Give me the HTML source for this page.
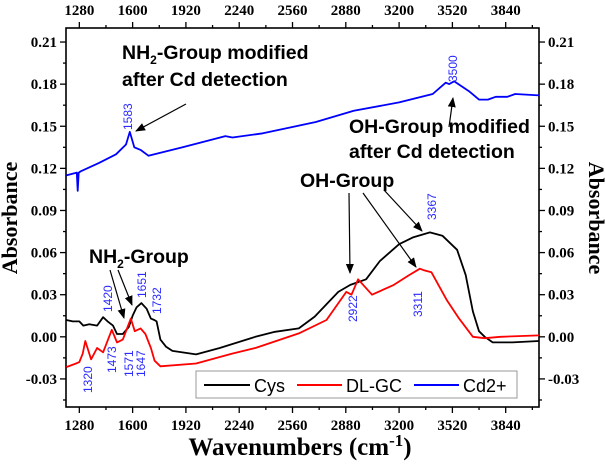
<!DOCTYPE html>
<html><head><meta charset="utf-8"><style>
html,body{margin:0;padding:0;background:#fff;width:605px;height:464px;overflow:hidden}
svg{display:block}
.tk{font-family:"Liberation Serif",serif;font-weight:bold;font-size:15px;fill:#000}
.an{font-family:"Liberation Sans",sans-serif;font-weight:bold;font-size:19.5px;fill:#000}
.bl{font-family:"Liberation Sans",sans-serif;font-size:12px;fill:#2a2aff}
</style></head><body>
<svg id="c" width="605" height="464"></svg>
<script>
const xTicks=[1280,1600,1920,2240,2560,2880,3200,3520,3840];
const yTicks=[-0.03,0.00,0.03,0.06,0.09,0.12,0.15,0.18,0.21];
const yTickLabels=["-0.03","0.00","0.03","0.06","0.09","0.12","0.15","0.18","0.21"];
const cysX=[1202,1240,1280,1304,1340,1387,1423,1450,1482,1506,1541,1577,1600,1624,1653,1684,1710,1730,1744,1767,1800,1839,1981,2123,2337,2455,2598,2693,2835,2907,3002,3085,3200,3286,3385,3460,3548,3600,3643,3680,3714,3762,3880,4040];
const cysY=[0.012,0.011,0.011,0.008,0.009,0.008,0.014,0.011,0.008,0.002,0.002,0.007,0.015,0.021,0.024,0.020,0.013,0.012,0.011,-0.002,-0.007,-0.010,-0.0125,-0.008,0.000,0.0036,0.006,0.0144,0.032,0.037,0.041,0.054,0.066,0.071,0.0744,0.072,0.062,0.044,0.018,0.004,0.000,-0.004,-0.004,-0.003];
const glcX=[1202,1260,1280,1300,1316,1351,1387,1423,1475,1506,1541,1589,1613,1648,1677,1710,1732,1767,1981,2195,2337,2598,2764,2883,2914,2954,3037,3168,3260,3325,3346,3394,3487,3560,3643,3714,3809,4040];
const glcY=[-0.0216,-0.019,-0.018,-0.012,-0.003,-0.016,-0.008,-0.011,0.005,-0.004,-0.002,0.013,0.004,0.006,0.002,-0.008,-0.017,-0.021,-0.019,-0.012,-0.008,0.0024,0.012,0.032,0.030,0.041,0.030,0.037,0.044,0.0485,0.0475,0.046,0.026,0.013,0.000,-0.001,0.000,0.001];
const cdX=[1202,1265,1270,1276,1290,1400,1500,1560,1583,1610,1650,1695,1900,2157,2200,2382,2700,2928,3200,3402,3480,3500,3530,3620,3680,3733,3780,3850,3897,4040];
const cdY=[0.115,0.117,0.104,0.117,0.118,0.124,0.130,0.137,0.146,0.135,0.133,0.129,0.135,0.143,0.142,0.145,0.153,0.161,0.167,0.173,0.181,0.180,0.182,0.175,0.169,0.169,0.171,0.171,0.173,0.172];
const seriesNames=["Cys","DL-GC","Cd2+"];
const seriesColors=["#000","#f00","#00f"];

const L=66,R=539,T=28,B=407,X0=1200,X1=4040,Y0=-0.05,Y1=0.22;
const sx=w=>L+(w-X0)/(X1-X0)*(R-L);
const sy=v=>B-(v-Y0)/(Y1-Y0)*(B-T);
const svg=document.getElementById('c');
const NS="http://www.w3.org/2000/svg";
function mk(tag,attrs,parent){const e=document.createElementNS(NS,tag);for(const k in attrs)e.setAttribute(k,attrs[k]);(parent||svg).appendChild(e);return e;}

const frame=mk('rect',{x:L,y:T,width:R-L,height:B-T,fill:'none',stroke:'#000','stroke-width':1.6});



for(let i=0;i<xTicks.length;i++){
  const x=sx(xTicks[i]);
  mk('line',{x1:x,y1:B,x2:x,y2:B+6,stroke:'#000','stroke-width':1.3});
  mk('line',{x1:x,y1:T,x2:x,y2:T-6,stroke:'#000','stroke-width':1.3});
  const xm=sx(xTicks[i]+160);
  if(xTicks[i]+160<X1){mk('line',{x1:xm,y1:B,x2:xm,y2:B+3,stroke:'#000','stroke-width':1.3});mk('line',{x1:xm,y1:T,x2:xm,y2:T-3,stroke:'#000','stroke-width':1.3});}
  const t1=mk('text',{x:x,y:430,'text-anchor':'middle',class:'tk'});t1.textContent=xTicks[i];
  
  
  const t2=mk('text',{x:x,y:15,'text-anchor':'middle',class:'tk'});t2.textContent=xTicks[i];
  
  
}
for(let i=0;i<yTicks.length;i++){
  const y=sy(yTicks[i]);
  mk('line',{x1:L,y1:y,x2:L-6,y2:y,stroke:'#000','stroke-width':1.3});
  mk('line',{x1:R,y1:y,x2:R+6,y2:y,stroke:'#000','stroke-width':1.3});
  const ym=sy(yTicks[i]-0.015);
  if(yTicks[i]-0.015>Y0){mk('line',{x1:L,y1:ym,x2:L-3,y2:ym,stroke:'#000','stroke-width':1.3});mk('line',{x1:R,y1:ym,x2:R+3,y2:ym,stroke:'#000','stroke-width':1.3});}
  const t1=mk('text',{x:L-9,y:y+5,'text-anchor':'end',class:'tk'});t1.textContent=yTickLabels[i];
  
  
  const t2=mk('text',{x:R+9,y:y+5,'text-anchor':'start',class:'tk'});t2.textContent=yTickLabels[i];
  
  
}
const sets=[[cysX,cysY],[glcX,glcY],[cdX,cdY]];
for(let s=0;s<3;s++){
  const [xs,ys]=sets[s];
  const d=xs.map((w,i)=>(i?'L':'M')+sx(w).toFixed(1)+','+sy(ys[i]).toFixed(1)).join(' ');
  const p=mk('path',{d:d,fill:'none',stroke:seriesColors[s],'stroke-width':1.8,'stroke-linejoin':'round'});
  
  
}
</script>
<svg width="605" height="464" style="position:absolute;left:0;top:0">
<defs><marker id="a2" markerWidth="10" markerHeight="8" refX="9" refY="4" orient="auto" markerUnits="userSpaceOnUse"><path d="M0,0 L10,4 L0,8 z" fill="#000"/></marker></defs>
<text x="17" y="218" transform="rotate(-90 17 218)" text-anchor="middle" font-family="Liberation Serif,serif" font-weight="bold" font-size="22">Absorbance</text>
<text x="589" y="218" transform="rotate(90 589 218)" text-anchor="middle" font-family="Liberation Serif,serif" font-weight="bold" font-size="22">Absorbance</text>
<text x="300" y="455" text-anchor="middle" font-family="Liberation Serif,serif" font-weight="bold" font-size="25">Wavenumbers (cm<tspan dy="-9" font-size="17">-1</tspan><tspan dy="9">)</tspan></text>
<g><text x="122" y="59" class="an">NH<tspan font-size="12" dy="5">2</tspan><tspan dy="-5">-Group modified</tspan></text><text x="122" y="86" class="an">after Cd detection</text></g>
<line x1="186" y1="104" x2="136" y2="131" stroke="#000" stroke-width="1.2" marker-end="url(#a2)"/>
<g><text x="349" y="133" class="an">OH-Group modified</text><text x="349" y="158" class="an">after Cd detection</text></g>
<line x1="449" y1="127" x2="453" y2="98" stroke="#000" stroke-width="1.2" marker-end="url(#a2)"/>
<text x="300" y="187" class="an">OH-Group</text>
<line x1="349" y1="193" x2="350" y2="273" stroke="#000" stroke-width="1.2" marker-end="url(#a2)"/>
<line x1="363" y1="193" x2="416" y2="267" stroke="#000" stroke-width="1.2" marker-end="url(#a2)"/>
<line x1="384" y1="190" x2="422" y2="231" stroke="#000" stroke-width="1.2" marker-end="url(#a2)"/>
<text x="89" y="263" class="an">NH<tspan font-size="12" dy="5">2</tspan><tspan dy="-5">-Group</tspan></text>
<line x1="110" y1="270" x2="124" y2="318" stroke="#000" stroke-width="1.2" marker-end="url(#a2)"/>
<line x1="118" y1="270" x2="132" y2="305" stroke="#000" stroke-width="1.2" marker-end="url(#a2)"/>
<g>
<text class="bl" transform="translate(132,130) rotate(-90)">1583</text>
<text class="bl" transform="translate(457,82) rotate(-90)">3500</text>
<text class="bl" transform="translate(112,312) rotate(-90)">1420</text>
<text class="bl" transform="translate(146,298) rotate(-90)">1651</text>
<text class="bl" transform="translate(161,314) rotate(-90)">1732</text>
<text class="bl" transform="translate(92,393) rotate(-90)">1320</text>
<text class="bl" transform="translate(116,373) rotate(-90)">1473</text>
<text class="bl" transform="translate(133,377) rotate(-90)">1571</text>
<text class="bl" transform="translate(145,377) rotate(-90)">1647</text>
<text class="bl" transform="translate(357,322) rotate(-90)">2922</text>
<text class="bl" transform="translate(422,317) rotate(-90)">3311</text>
<text class="bl" transform="translate(436,220) rotate(-90)">3367</text>
</g>
<g>
<rect x="196" y="371" width="321" height="27" fill="#fff" stroke="#999" stroke-width="1"/>
<line x1="204" y1="385" x2="250" y2="385" stroke="#000" stroke-width="2"/>
<text x="254" y="392" font-family="Liberation Sans,sans-serif" font-size="18">Cys</text>
<line x1="297" y1="385" x2="342" y2="385" stroke="#f00" stroke-width="2"/>
<text x="346" y="392" font-family="Liberation Sans,sans-serif" font-size="18">DL-GC</text>
<line x1="414" y1="385" x2="459" y2="385" stroke="#00f" stroke-width="2"/>
<text x="463" y="392" font-family="Liberation Sans,sans-serif" font-size="18">Cd2+</text>
</g>
</svg>
</body></html>
